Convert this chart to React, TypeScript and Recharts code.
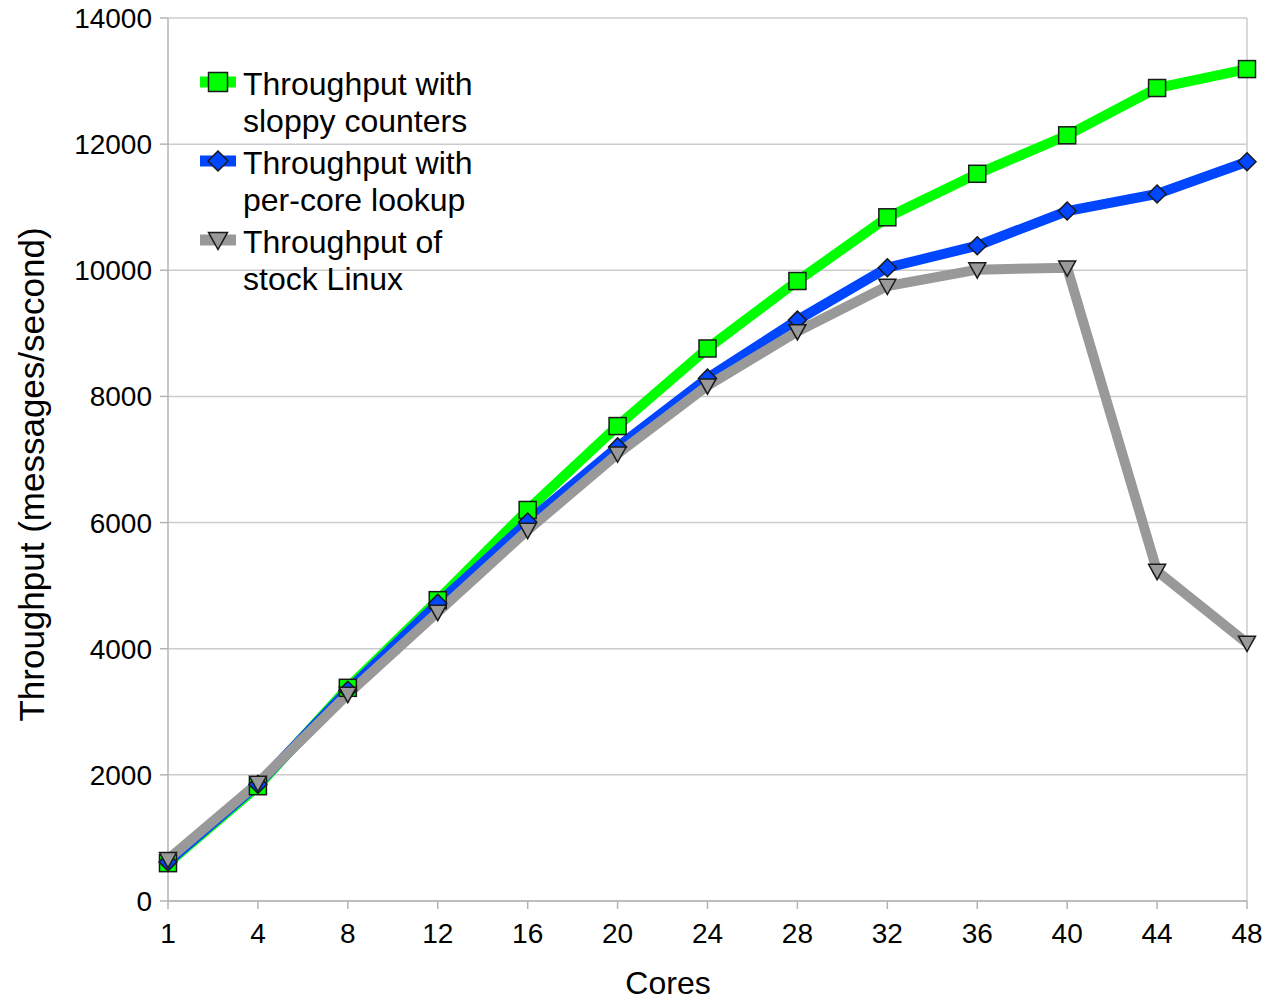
import React from 'react';
import { LineChart, Line, XAxis, YAxis, CartesianGrid, Legend, ReferenceLine } from 'recharts';

const cores = [1, 4, 8, 12, 16, 20, 24, 28, 32, 36, 40, 44, 48];
const sloppyCounters = [600, 1820, 3380, 4770, 6200, 7530, 8760, 9830, 10840, 11530, 12140, 12890, 13190];
const perCoreLookup = [620, 1850, 3340, 4720, 6010, 7200, 8290, 9210, 10040, 10390, 10940, 11210, 11720];
const stockLinux = [660, 1870, 3280, 4580, 5880, 7090, 8170, 9030, 9750, 10010, 10040, 5230, 4090];
const yTicks = [0, 2000, 4000, 6000, 8000, 10000, 12000, 14000];

const seriesNames = {
  sloppy: 'Throughput with sloppy counters',
  perCore: 'Throughput with per-core lookup',
  stock: 'Throughput of stock Linux',
};

const data = cores.map((c, i) => ({
  cores: c,
  sloppy: sloppyCounters[i],
  perCore: perCoreLookup[i],
  stock: stockLinux[i],
}));

const GREEN = '#00ff00';
const BLUE = '#0046ff';
const GRAY = '#999999';
const MARK_STROKE = '#1a1a1a';
const FONT = '"Liberation Sans", Arial, sans-serif';

const square = (cx: number, cy: number, s: number, key?: string) => (
  <rect key={key} x={cx - s / 2} y={cy - s / 2} width={s} height={s} fill={GREEN} stroke={MARK_STROKE} strokeWidth={1.5} />
);
const diamond = (cx: number, cy: number, r: number, key?: string) => (
  <polygon key={key} points={`${cx},${cy - r} ${cx + r},${cy} ${cx},${cy + r} ${cx - r},${cy}`} fill={BLUE} stroke={MARK_STROKE} strokeWidth={1.5} />
);
const triangle = (cx: number, cy: number, r: number, key?: string) => (
  <polygon key={key} points={`${cx - r},${cy - r * 0.8} ${cx + r},${cy - r * 0.8} ${cx},${cy + r}`} fill={GRAY} stroke={MARK_STROKE} strokeWidth={1.5} />
);

const SquareDot = (props: any) => {
  const { cx, cy, index } = props;
  if (cx == null || cy == null) return <g key={`sq-${index}`} />;
  return square(cx, cy, 17, `sq-${index}`);
};
const DiamondDot = (props: any) => {
  const { cx, cy, index } = props;
  if (cx == null || cy == null) return <g key={`dm-${index}`} />;
  return diamond(cx, cy, 9, `dm-${index}`);
};
const TriangleDot = (props: any) => {
  const { cx, cy, index } = props;
  if (cx == null || cy == null) return <g key={`tr-${index}`} />;
  return triangle(cx, cy, 8.5, `tr-${index}`);
};

const legendItems = [
  { name: seriesNames.sloppy, color: GREEN, marker: (x: number, y: number) => square(x, y, 19) },
  { name: seriesNames.perCore, color: BLUE, marker: (x: number, y: number) => diamond(x, y, 10) },
  { name: seriesNames.stock, color: GRAY, marker: (x: number, y: number) => triangle(x, y, 9.5) },
];

const LegendContent = () => (
  <div style={{ fontFamily: FONT, fontSize: 32, lineHeight: '37px', color: '#000' }}>
    {legendItems.map((it, i) => (
      <div key={i} style={{ display: 'flex', alignItems: 'flex-start', marginBottom: i < legendItems.length - 1 ? 5 : 0 }}>
        <svg width={43} height={37} style={{ flex: 'none', display: 'block' }}>
          <line x1={0} y1={16} x2={36} y2={16} stroke={it.color} strokeWidth={11} />
          {it.marker(18, 16)}
        </svg>
        <div style={{ width: 245 }}>{it.name}</div>
      </div>
    ))}
  </div>
);

const YTitle = (props: any) => {
  const vb = props.viewBox || { x: 0, y: 0, width: 0, height: 0 };
  const cx = 31;
  const cy = vb.y + vb.height / 2 + 15;
  return (
    <text
      x={cx}
      y={cy}
      transform={`rotate(-90, ${cx}, ${cy})`}
      textAnchor="middle"
      dominantBaseline="central"
      fontFamily={FONT}
      fontSize={35}
      fill="#000"
    >
      Throughput (messages/second)
    </text>
  );
};

const XTitle = () => (
  <text x={668} y={994} textAnchor="middle" fontFamily={FONT} fontSize={32} fill="#000">
    Cores
  </text>
);

export default function App() {
  const axisColor = '#b3b3b3';
  return (
    <div style={{ position: 'absolute', left: 0, top: 0, width: 1265, height: 1002, overflow: 'hidden' }}>
      <LineChart
        width={1265}
        height={1002}
        data={data}
        margin={{ top: 18, right: 18, bottom: 0, left: 0 }}
        style={{ fontFamily: FONT }}
      >
        <CartesianGrid vertical={false} stroke="#cccccc" strokeWidth={1.5} />
        <XAxis
          dataKey="cores"
          type="category"
          height={101}
          tickSize={8}
          tickMargin={14}
          interval={0}
          stroke={axisColor}
          axisLine={{ stroke: axisColor, strokeWidth: 1.5 }}
          tickLine={{ stroke: axisColor, strokeWidth: 1.5 }}
          tick={{ fill: '#000', fontSize: 28, fontFamily: FONT }}
          label={<XTitle />}
        />
        <YAxis
          width={168}
          domain={[0, 14000]}
          ticks={yTicks}
          interval={0}
          tickSize={8}
          tickMargin={8}
          stroke={axisColor}
          axisLine={{ stroke: axisColor, strokeWidth: 1.5 }}
          tickLine={{ stroke: axisColor, strokeWidth: 1.5 }}
          tick={{ fill: '#000', fontSize: 28, fontFamily: FONT }}
          label={<YTitle />}
        />
        <ReferenceLine x={48} stroke="#cccccc" strokeWidth={1.5} />
        <Legend
          layout="vertical"
          align="center"
          verticalAlign="middle"
          content={<LegendContent />}
          wrapperStyle={{ position: 'absolute', left: 200, top: 66, width: 300, height: 'auto' }}
        />
        <Line
          type="linear"
          dataKey="sloppy"
          name={seriesNames.sloppy}
          stroke={GREEN}
          strokeWidth={10}
          dot={SquareDot}
          activeDot={false}
          isAnimationActive={false}
        />
        <Line
          type="linear"
          dataKey="perCore"
          name={seriesNames.perCore}
          stroke={BLUE}
          strokeWidth={10}
          dot={DiamondDot}
          activeDot={false}
          isAnimationActive={false}
        />
        <Line
          type="linear"
          dataKey="stock"
          name={seriesNames.stock}
          stroke={GRAY}
          strokeWidth={10}
          dot={TriangleDot}
          activeDot={false}
          isAnimationActive={false}
        />
      </LineChart>
    </div>
  );
}
